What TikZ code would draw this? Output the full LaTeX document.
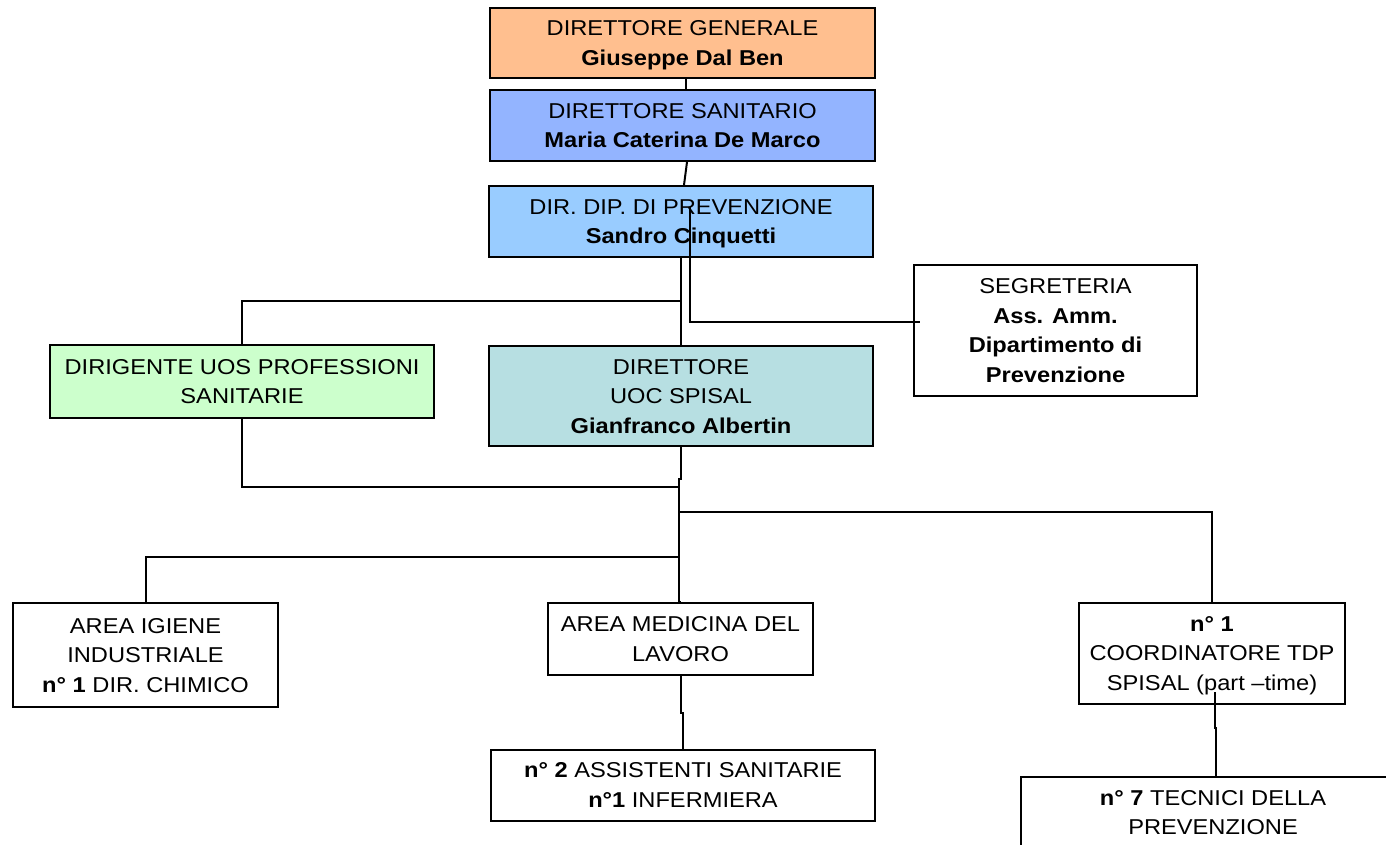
\documentclass[tikz,border=0pt]{standalone}
\usepackage{fontspec}
\setmainfont[FakeStretch=1.1]{Liberation Sans}
\usetikzlibrary{calc}
\definecolor{cdg}{HTML}{FFBF8F}
\definecolor{cds}{HTML}{93B4FF}
\definecolor{cddp}{HTML}{99CCFF}
\definecolor{cuos}{HTML}{CCFFCC}
\definecolor{cuoc}{HTML}{B7DFE2}
\tikzset{
  box/.style={draw=black, line width=2pt, rectangle, inner sep=0pt, align=center,
    text depth=-2.5pt, font=\fontsize{21.5}{29.5}\selectfont},
  conn/.style={draw=black, line width=2pt},
}
\begin{document}
\begin{tikzpicture}[x=1pt,y=-1pt]
\useasboundingbox (0,0) rectangle (1386,844);
\clip (0,0) rectangle (1386,844);
\fill[white] (0,0) rectangle (1386,844);
% nodes
\node[box, fill=cdg, minimum width=385, minimum height=70] (dg) at (682.5,43) {DIRETTORE GENERALE\\\textbf{Giuseppe Dal Ben}};
\node[box, fill=cds, minimum width=385, minimum height=71] (ds) at (682.5,125.5) {DIRETTORE SANITARIO\\\textbf{Maria Caterina De Marco}};
\node[box, fill=cddp, minimum width=384, minimum height=71] (ddp) at (681,221.5) {DIR. DIP. DI PREVENZIONE\\\textbf{Sandro Cinquetti}};
\node[box, fill=white, minimum width=283, minimum height=131] (seg) at (1055.5,330.5) {SEGRETERIA\\\textbf{Ass. Amm.}\\\textbf{Dipartimento di}\\\textbf{Prevenzione}};
\node[box, fill=cuos, minimum width=384, minimum height=73] (uos) at (242,381.5) {DIRIGENTE UOS PROFESSIONI\\SANITARIE};
\node[box, fill=cuoc, minimum width=384, minimum height=100] (uoc) at (681,396) {DIRETTORE\\UOC SPISAL\\\textbf{Gianfranco Albertin}};
\node[box, fill=white, minimum width=265, minimum height=104] (aig) at (145.5,655) {AREA IGIENE\\INDUSTRIALE\\\textbf{n° 1} DIR. CHIMICO};
\node[box, fill=white, minimum width=265, minimum height=72] (amed) at (680.5,639) {AREA MEDICINA DEL\\LAVORO};
\node[box, fill=white, minimum width=384, minimum height=71] (ass) at (683,785) {\textbf{n° 2} ASSISTENTI SANITARIE\\\textbf{n°1} INFERMIERA};
\node[box, fill=white, minimum width=266, minimum height=101] (coord) at (1212,653.5) {\textbf{n° 1}\\COORDINATORE TDP\\SPISAL (part –time)};
\node[box, fill=white, minimum width=384, minimum height=71] (tec) at (1213,812.5) {\textbf{n° 7} TECNICI DELLA\\PREVENZIONE};
% junctions
\coordinate (j1) at (681,301);
\coordinate (j2) at (679,487);
\coordinate (j3) at (679,512);
\coordinate (j4) at (679,557);
% connectors
\draw[conn] (686,0 |- dg.south) -- (686,0 |- ds.north);
\draw[conn] (687,0 |- ds.south) -- (684,0 |- ddp.north);
\draw[conn] ($(ddp.center)+(9,-14.5)$) |- ($(seg.west)+(7,-8.5)$);
\draw[conn] (ddp.south) -- (uoc.north);
\draw[conn] (j1) -| (uos.north);
\draw[conn] (uos.south) |- (j2);
\draw[conn] (uoc.south) -- ++(0,32) -- ++(-2,0) |- (amed.north);
\draw[conn] (j3) -| (coord.north);
\draw[conn] (j4) -| (aig.north);
\draw[conn] (amed.south) -- ++(0,37) -| (ass.north);
\draw[conn] ($(coord.center)+(3,38.5)$) -- ++(0,35.5) -| ($(tec.north)+(3,0)$);
\end{tikzpicture}
\end{document}
